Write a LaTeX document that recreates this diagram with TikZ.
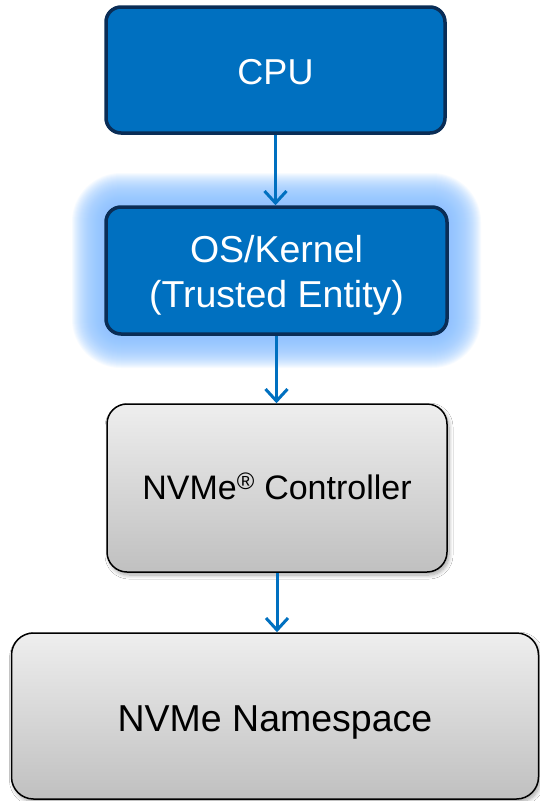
\documentclass[tikz,border=0pt]{standalone}
\usepackage{fontspec}
\setmainfont{Liberation Sans}
\usetikzlibrary{arrows.meta,shadows,shadows.blur,calc}
\definecolor{boxblue}{RGB}{0,112,192}
\definecolor{navy}{RGB}{10,45,86}
\definecolor{glowblue}{RGB}{140,195,255}
\definecolor{graytop}{RGB}{238,238,238}
\definecolor{graybot}{RGB}{192,192,192}
\tikzset{
  bluebox/.style={draw=navy, line width=3.5pt, fill=boxblue, rounded corners=15pt,
    text=white, align=center, inner sep=0pt},
  graybox/.style={draw=black, line width=1.5pt, top color=graytop, bottom color=graybot,
    rounded corners=20pt, text=black, align=center, inner sep=0pt,
    blur shadow={shadow xshift=2pt, shadow yshift=-3pt, shadow opacity=35, shadow blur steps=8, shadow blur radius=4pt}},
  flow/.style={draw=boxblue, line width=3pt, -{Straight Barb[length=12pt, width=22pt, line width=3pt]}}
}
\begin{document}
\begin{tikzpicture}[x=1pt,y=-1pt]
\useasboundingbox (0,0) rectangle (540,801);
\fill[white] (0,0) rectangle (540,801);
% OS glow
\coordinate (glowNW) at (106,207);
\coordinate (glowSE) at (447,334);
\foreach \i in {1,...,34}{
  \fill[glowblue, opacity=0.065, rounded corners={15+\i}]
    ($(glowNW)+(-\i,-\i)$) rectangle ($(glowSE)+(\i,\i)$);
}
\node[bluebox, minimum width=339pt, minimum height=126pt, font=\fontsize{36}{44}\selectfont,
  text height=28pt, text depth=0pt] (cpu) at (275.5,70) {CPU};
\node[bluebox, minimum width=341pt, minimum height=127pt, font=\fontsize{37.5}{45}\selectfont,
  text height=73pt, text depth=0pt] (os) at (276.5,270.5) {OS/Kernel\\(Trusted Entity)};
\node[graybox, minimum width=340pt, minimum height=168pt, font=\fontsize{34}{42}\selectfont,
  text height=22pt, text depth=0pt] (ctrl) at (277,488) {NVMe\textsuperscript{\textregistered} Controller};
\node[graybox, minimum width=527pt, minimum height=166pt, rounded corners=22pt, font=\fontsize{37.5}{45}\selectfont,
  text height=30pt, text depth=0pt] (ns) at (275,716) {NVMe Namespace};
\draw[flow] (cpu.south) -- (cpu.south |- os.north);
\draw[flow] (os.south) -- (os.south |- ctrl.north);
\draw[flow] (ctrl.south) -- (ctrl.south |- ns.north);
\end{tikzpicture}
\end{document}
